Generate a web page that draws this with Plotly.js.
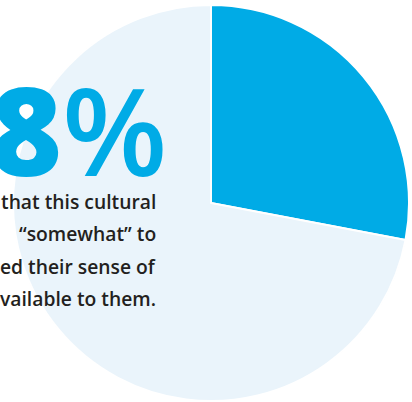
<!DOCTYPE html>
<html>
<head>
<meta charset="utf-8">
<script src="https://cdn.plot.ly/plotly-3.0.1.min.js"></script>
<style>html,body{margin:0;padding:0;background:#fff;}#chart{width:412px;height:402px;}</style>
</head>
<body>
<div id="chart"></div>
<script>
const labels = ["Somewhat or more", "Other"];
const values = [28, 72];
const sliceColors = ["#00abe6", "#eaf4fb"];
const bigNumber = "28";
const bigUnit = "%";
const bodyLines = ["that this cultural", "“somewhat” to", "ed their sense of", "vailable to them."];

const W = 412, H = 402;
const cx = 211, cy = 203, r = 198;

const trace = {
  type: "pie",
  labels: labels,
  values: values,
  sort: false,
  direction: "clockwise",
  rotation: 0,
  textinfo: "none",
  hoverinfo: "label+percent",
  marker: { colors: sliceColors, line: { color: "#ffffff", width: 2 } },
  domain: { x: [(cx - r) / W, (cx + r) / W], y: [(H - cy - r) / H, (H - cy + r) / H] },
  showlegend: false
};

const annotations = [{
  text: '<span style="font-weight:800">' + bigNumber + '</span><span style="font-weight:600">' + bigUnit + '</span>',
  xref: "paper", yref: "paper",
  x: 169 / W, y: (H - 44) / H, xanchor: "right", yanchor: "top",
  height: 135, valign: "top",
  showarrow: false,
  font: { family: "Open Sans, sans-serif", size: 122, color: "#00abe6" }
}];
const lineY0 = 201, lineGap = 32.5;
bodyLines.forEach((t, i) => {
  annotations.push({
    text: t, xref: "paper", yref: "paper",
    x: 158 / W, y: (H - (lineY0 + i * lineGap)) / H, xanchor: "right", yanchor: "middle",
    showarrow: false,
    font: { family: "Open Sans, sans-serif", size: 19.3, color: "#231f20", weight: 600 }
  });
});

Plotly.newPlot("chart", [trace], {
  width: W, height: H,
  margin: { l: 0, r: 0, t: 0, b: 0, pad: 0 },
  paper_bgcolor: "#ffffff",
  annotations: annotations
}, { displayModeBar: false, staticPlot: true });
</script>
</body>
</html>
